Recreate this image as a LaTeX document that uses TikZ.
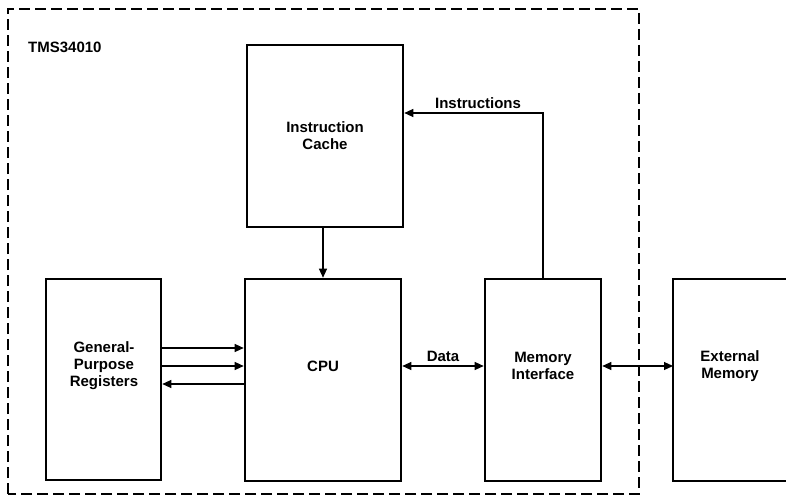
\documentclass[tikz,border=0pt]{standalone}
\usepackage{fontspec}
\setmainfont{Liberation Sans}
\usetikzlibrary{arrows.meta}
\begin{document}
\begin{tikzpicture}[x=1pt,y=-1pt,
  blk/.style={draw,line width=2.6pt,inner sep=0pt},
  lbl/.style={font=\fontsize{15}{17}\selectfont\bfseries,align=center,inner sep=0pt},
  conn/.style={line width=1.1pt,-{Triangle[length=9pt,width=8pt]}},
  dconn/.style={line width=1.1pt,{Triangle[length=9pt,width=8pt]}-{Triangle[length=9pt,width=8pt]}}]
\useasboundingbox (0,0) rectangle (786,497);
\draw[line width=1.2pt,dash pattern=on 11pt off 5pt] (8,494) -- (8,9) -- (639,9) -- (639,494) -- cycle;
\node[lbl,anchor=west] (chip) at (28,47) {TMS34010};
\node[blk,minimum width=156pt,minimum height=182pt] (cache) at (325,136) {};
\node[lbl] at (cache) {Instruction\\Cache};
\node[blk,minimum width=115pt,minimum height=201pt] (regs) at (103.5,379.5) {};
\node[lbl] at (104,366) {General-\\Purpose\\Registers};
\node[blk,minimum width=156pt,minimum height=202pt] (cpu) at (323,380) {};
\node[lbl] at (323,366) {CPU};
\node[blk,minimum width=116pt,minimum height=202pt] (mem) at (543,380) {};
\node[lbl] at (543,366) {Memory\\Interface};
\draw[line width=2.6pt] (800,279) -- (673,279) -- (673,481) -- (800,481);
\coordinate (ext) at (673,366);
\node[lbl] at (730,366) {External\\Memory};
\draw[conn] (cache.south -| 323,0) -- (cpu.north -| 323,0);
\draw[conn] (mem.north) |- (478,113) coordinate (turn) -- (cache.east |- turn);
\node[lbl,anchor=south] at (478,109) {Instructions};
\draw[conn] (regs.east |- 0,348) -- (cpu.west |- 0,348);
\draw[conn] (regs.east |- 0,366) -- (cpu.west |- 0,366);
\draw[conn] (cpu.west |- 0,384) -- (regs.east |- 0,384);
\draw[dconn] (cpu.east |- 0,366) -- (mem.west |- 0,366);
\node[lbl,anchor=south] at (443,362) {Data};
\draw[dconn] (mem.east |- 0,366) -- (ext);
\end{tikzpicture}
\end{document}
